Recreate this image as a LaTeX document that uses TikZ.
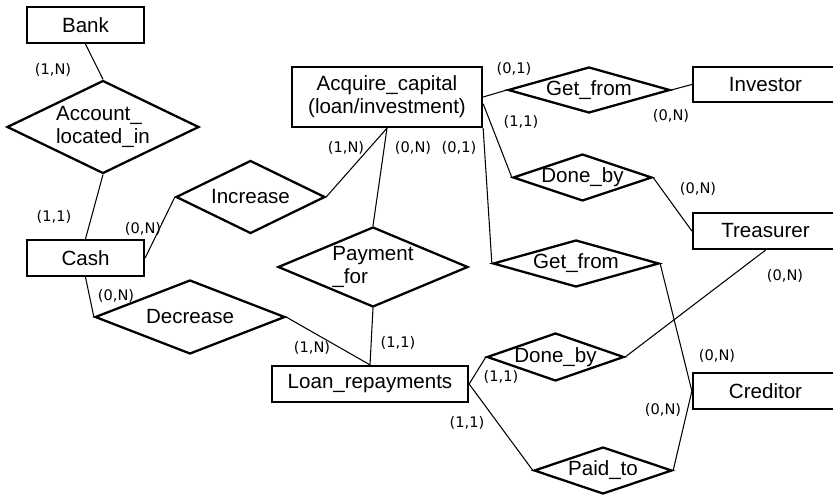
\documentclass[tikz,border=0pt]{standalone}
\usepackage{fontspec}
\setmainfont{Liberation Sans}
\newfontfamily\cardfont{DejaVu Sans}
\usetikzlibrary{shapes.geometric}
\usetikzlibrary{calc}

\begin{document}
\begin{tikzpicture}[
    line width=0.6pt,
    entity/.style 2 args={rectangle, draw, line width=1.3pt, inner sep=0pt, minimum width=#1, minimum height=#2, font=\fontsize{11.7}{13}\selectfont},
    rel/.style 2 args={diamond, draw, line width=1.3pt, inner sep=-2pt, shape aspect=3, minimum width=#1, minimum height=#2, font=\fontsize{11.7}{13}\selectfont},
    card/.style={inner sep=0pt, font=\cardfont\fontsize{8.3}{10}\selectfont}]
      \useasboundingbox (0, 0) rectangle (16.66, 9.92);

      % entities
      \node[entity={2.34cm}{0.72cm}] (bank) at (1.71, 9.42) {Bank};
      \node[entity={2.34cm}{0.72cm}] (cash) at (1.71, 4.76) {Cash};
      \node[entity={3.8cm}{1.2cm}, align=center] (acquire) at (7.74, 7.98) {Acquire\_capital\\(loan/investment)};
      \node[entity={2.9cm}{0.70cm}] (investor) at (15.31, 8.23) {Investor};
      \node[entity={2.9cm}{0.72cm}] (treasurer) at (15.31, 5.30) {Treasurer};
      \node[entity={2.9cm}{0.72cm}] (creditor) at (15.31, 2.10) {Creditor};
      \node[entity={3.92cm}{0.72cm}] (loan) at (7.40, 2.24) {Loan\_repayments};

      % relationships
      \node[rel={3.84cm}{1.86cm}, shape aspect=2, align=left] (located) at (2.06, 7.38) {Account\_\\located\_in};
      \node[rel={2.98cm}{1.46cm}, shape aspect=2] (increase) at (5.01, 5.98) {Increase};
      \node[rel={3.80cm}{1.48cm}, shape aspect=2] (decrease) at (3.80, 3.58) {Decrease};
      \node[rel={3.80cm}{1.60cm}, shape aspect=2, align=left] (payment) at (7.46, 4.58) {Payment\\\_for};
      \node[rel={3.24cm}{0.92cm}] (getinv) at (11.78, 8.12) {Get\_from};
      \node[rel={2.78cm}{0.94cm}] (donetr) at (11.65, 6.37) {Done\_by};
      \node[rel={3.32cm}{0.94cm}] (getcr) at (11.52, 4.65) {Get\_from};
      \node[rel={2.74cm}{0.96cm}] (doneln) at (11.11, 2.78) {Done\_by};
      \node[rel={2.76cm}{0.94cm}] (paid) at (12.06, 0.51) {Paid\_to};

      \draw (bank.south) -- (located.north);
      \draw (located.south) -- (cash.north);
      \draw (cash.east) -- (increase.west);
      \draw (cash.south) -- (decrease.west);
      \draw (increase.east) -- (acquire.south) -- (payment.north);
      \draw (acquire.east) -- (getinv.west);
      \draw (getinv.east) -- (investor.west);
      \draw (acquire.-4) -- (donetr.west);
      \draw (donetr.east) -- (treasurer.west);
      \draw (acquire.south east) -- (getcr.west);
      \draw (getcr.east) -- (creditor.west);
      \draw (decrease.east) -- (loan.north) -- (payment.south);
      \draw (loan.east) -- (doneln.west);
      \draw (doneln.east) -- (treasurer.south);
      \draw (loan.east) -- (paid.west);
      \draw (paid.east) -- (creditor.west);

      % cardinalities
      \node[card] (c1) at (1.06, 8.52) {(1,N)};
      \node[card] (c2) at (1.08, 5.58) {(1,1)};
      \node[card] (c3) at (2.86, 5.34) {(0,N)};
      \node[card] (c4) at (2.32, 4.00) {(0,N)};
      \node[card] (c5) at (6.92, 6.96) {(1,N)};
      \node[card] (c6) at (8.26, 6.96) {(0,N)};
      \node[card] (c7) at (9.18, 6.96) {(0,1)};
      \node[card] (c8) at (10.28, 8.54) {(0,1)};
      \node[card] (c9) at (10.42, 7.48) {(1,1)};
      \node[card] (c10) at (13.42, 7.60) {(0,N)};
      \node[card] (c11) at (13.96, 6.14) {(0,N)};
      \node[card] (c12) at (15.70, 4.40) {(0,N)};
      \node[card] (c13) at (14.34, 2.80) {(0,N)};
      \node[card] (c14) at (13.26, 1.72) {(0,N)};
      \node[card] (c15) at (10.02, 2.38) {(1,1)};
      \node[card] (c16) at (9.34, 1.46) {(1,1)};
      \node[card] (c17) at (7.96, 3.06) {(1,1)};
      \node[card] (c18) at (6.24, 2.96) {(1,N)};
\end{tikzpicture}
\end{document}
